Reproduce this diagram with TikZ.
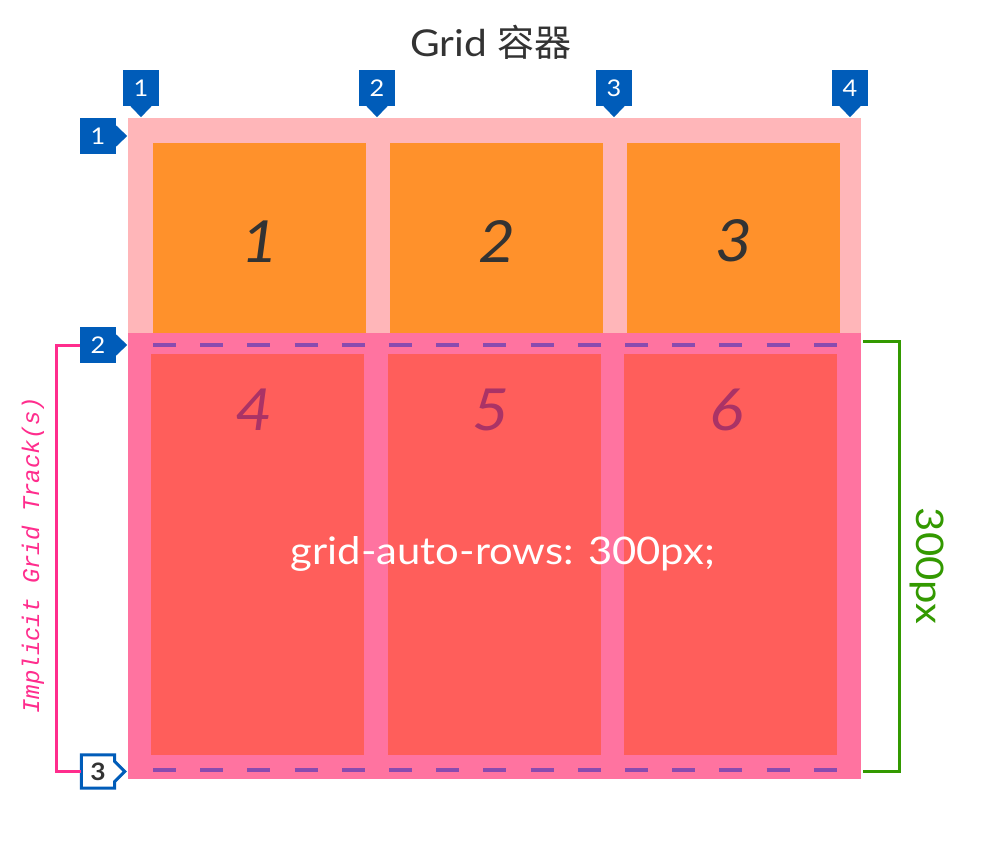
\documentclass[tikz,border=0pt]{standalone}
\usepackage{fontspec}
\setmainfont[FakeStretch=1.1]{Lato}
\newfontfamily\cjk{Noto Sans CJK SC}
\newfontfamily\monofam{Liberation Mono}
\usetikzlibrary{calc}
\definecolor{lpink}{HTML}{FFB6B9}
\definecolor{orng}{HTML}{FF912B}
\definecolor{dpink}{HTML}{FF73A0}
\definecolor{redc}{HTML}{FF5E5B}
\definecolor{purp}{HTML}{8A4BAF}
\definecolor{mblue}{HTML}{005CB9}
\definecolor{bpink}{HTML}{FF2D8D}
\definecolor{grn}{HTML}{339900}
\definecolor{dgray}{HTML}{333333}
\definecolor{plum}{HTML}{AA3366}
\begin{document}
\begin{tikzpicture}[x=1pt,y=-1pt,
  box/.style={inner sep=0pt, anchor=north west, draw=none},
  ocell/.style={box, fill=orng, minimum width=213pt, minimum height=190pt},
  rcell/.style={box, fill=redc, minimum width=213pt, minimum height=401pt},
  bignum/.style={font=\itshape\fontsize{58}{58}\selectfont, inner sep=0pt},
  marker/.style={fill=mblue, minimum size=36pt, inner sep=0pt, text=white, font=\fontsize{23}{23}\selectfont},
  dashline/.style={purp, line width=3.5pt, dash pattern=on 23pt off 24.2pt},
  bracket/.style={line width=3pt, line join=miter}
]
\useasboundingbox (0,0) rectangle (984,864);
\fill[white] (0,0) rectangle (984,864);

% title
\node[font=\fontsize{37}{37}\selectfont, text=dgray, anchor=base] (title) at (491,57) {Grid {\cjk 容器}};

% rows
\node[box, fill=lpink, minimum width=733pt, minimum height=215pt] (row1) at (128,118) {};
\node[box, fill=dpink, minimum width=733pt, minimum height=446pt] (row2) at (128,333) {};

% cells
\node[ocell] (c1) at (153,143) {};
\node[ocell] (c2) at (390,143) {};
\node[ocell] (c3) at (627,143) {};
\node[rcell] (c4) at (151,354) {};
\node[rcell] (c5) at (388,354) {};
\node[rcell] (c6) at (624,354) {};

\node[bignum, text=dgray] (n1) at ($(c1.center)+(0,3)$) {1};
\node[bignum, text=dgray] (n2) at ($(c2.center)+(0,3)$) {2};
\node[bignum, text=dgray] (n3) at ($(c3.center)+(0,3)$) {3};
\node[bignum, text=plum] (n4) at ($(c4.north)+(-4,56)$) {4};
\node[bignum, text=plum] (n5) at ($(c5.north)+(-4,56)$) {5};
\node[bignum, text=plum] (n6) at ($(c6.north)+(-4,56)$) {6};

% dashed lines
\coordinate (d1a) at (153,345);
\coordinate (d1b) at (840,345);
\coordinate (d2a) at (153,770);
\coordinate (d2b) at (840,770);
\draw[dashline] (d1a) -- (d1b);
\draw[dashline] (d2a) -- (d2b);

% central text
\node[text=white, font=\fontsize{38}{38}\selectfont] (auto) at (503,554) {grid-auto-rows: 300px;};

% top markers
\foreach \n/\xx in {1/141,2/377,3/614,4/850}{
  \node[marker] (t\n) at (\xx,88) {\n};
  \fill[mblue] ($(t\n.south)+(-11,-0.5)$) -- ($(t\n.south)+(0,11)$) -- ($(t\n.south)+(11,-0.5)$) -- cycle;
}
% left markers
\foreach \n/\yy in {1/136,2/345}{
  \node[marker] (l\n) at (98,\yy) {\n};
  \fill[mblue] ($(l\n.east)+(-0.5,-11)$) -- ($(l\n.east)+(11,0)$) -- ($(l\n.east)+(-0.5,11)$) -- cycle;
}
\node[minimum size=33pt, inner sep=0pt] (l3) at (98,771.5) {};
\draw[mblue, line width=3pt, fill=white, line join=miter]
  (l3.north west) -- (l3.north east) -- ($(l3.east)+(0,-10)$) -- ($(l3.east)+(10,0)$)
  -- ($(l3.east)+(0,10)$) -- (l3.south east) -- (l3.south west) -- cycle;
\node[text=dgray, font=\bfseries\fontsize{24}{24}\selectfont, inner sep=0pt] (l3t) at (l3.center) {3};

% left bracket
\draw[bracket, bpink] (l2.west) -- ++(-23,0) |- (l3.west);
\node[rotate=90, text=bpink, font=\monofam\itshape\fontsize{24}{24}\selectfont] (impl) at (33,555) {Implicit Grid Track(s)};

% right bracket
\coordinate (g1) at (863,341);
\coordinate (g2) at (863,771);
\draw[bracket, grn] (g1) -| ($(g2)+(36,0)$) -- (g2);
\node[rotate=-90, text=grn, font=\fontsize{38}{38}\selectfont] (lab300) at (927,566) {300px};
\end{tikzpicture}
\end{document}
